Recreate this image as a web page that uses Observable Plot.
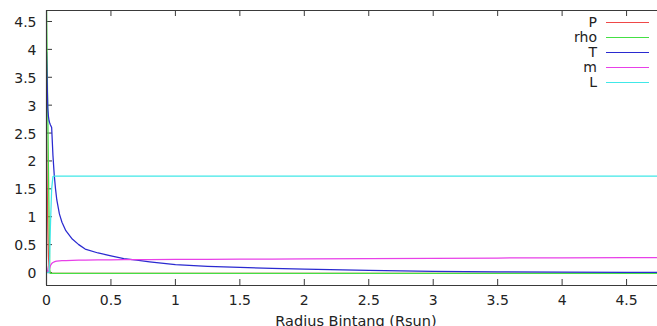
<!DOCTYPE html>
<html>
<head>
<meta charset="utf-8">
<script src="https://cdn.jsdelivr.net/npm/d3@7"></script>
<script src="https://cdn.jsdelivr.net/npm/@observablehq/plot@0.6"></script>
<style>
  html, body { margin: 0; padding: 0; background: #fff; }
  #wrap { position: relative; width: 657px; height: 326px; overflow: hidden; font-family: "DejaVu Sans", sans-serif; }
  #legend { position: absolute; left: 527px; top: 15px; font-size: 14px; color: #222; }
  .row { display: flex; align-items: center; height: 15px; }
  .lab { width: 70px; text-align: right; line-height: 15px; }
  .sw { width: 43px; height: 1px; margin-left: 9px; }
</style>
</head>
<body>
<div id="wrap"><div id="legend"></div></div>
<script>
// Radius grid (Rsun) shared by all series
const r   = [0, 0.005, 0.01, 0.015, 0.02, 0.025, 0.03, 0.04, 0.05, 0.06, 0.07, 0.08, 0.1, 0.12, 0.15, 0.2, 0.25, 0.3, 0.4, 0.5, 0.6, 0.7, 0.8, 1.0, 1.25, 1.5, 1.75, 2.0, 2.5, 3.0, 3.5, 4.0, 4.5, 4.75];
const P   = [2.6, 1.6, 0.8, 0.3, 0.08, 0.0, -0.015, -0.015, -0.015, -0.015, -0.015, -0.015, -0.015, -0.015, -0.015, -0.015, -0.015, -0.015, -0.015, -0.015, -0.015, -0.015, -0.015, -0.015, -0.015, -0.015, -0.015, -0.015, -0.015, -0.015, -0.015, -0.015, -0.015, -0.015];
const rho = [4.8, 3.8, 2.85, 1.9, 0.95, 0.05, -0.015, -0.015, -0.015, -0.015, -0.015, -0.015, -0.015, -0.015, -0.015, -0.015, -0.015, -0.015, -0.015, -0.015, -0.015, -0.015, -0.015, -0.015, -0.015, -0.015, -0.015, -0.015, -0.015, -0.015, -0.015, -0.015, -0.015, -0.015];
const T   = [3.95, 3.4, 2.95, 2.8, 2.72, 2.68, 2.65, 2.6, 2.1, 1.75, 1.5, 1.3, 1.05, 0.9, 0.75, 0.6, 0.5, 0.42, 0.35, 0.3, 0.25, 0.22, 0.19, 0.14, 0.11, 0.09, 0.075, 0.06, 0.04, 0.02, 0.01, 0.005, 0.003, 0.002];
const m   = [0.12, 0.06, 0.01, 0.0, 0.03, 0.08, 0.12, 0.16, 0.18, 0.19, 0.2, 0.205, 0.21, 0.212, 0.215, 0.218, 0.22, 0.222, 0.225, 0.227, 0.229, 0.23, 0.232, 0.234, 0.237, 0.24, 0.242, 0.245, 0.25, 0.255, 0.26, 0.263, 0.267, 0.268];
const L   = [0, 0, 0, 0, 0, 0.3, 0.8, 1.5, 1.72, 1.73, 1.73, 1.73, 1.73, 1.73, 1.73, 1.73, 1.73, 1.73, 1.73, 1.73, 1.73, 1.73, 1.73, 1.73, 1.73, 1.73, 1.73, 1.73, 1.73, 1.73, 1.73, 1.73, 1.73, 1.73];

const seriesNames  = ["P", "rho", "T", "m", "L"];
const seriesColors = ["#f04848", "#44e044", "#2a2ad0", "#e840e8", "#40e8e8"];
const xTicks = [0, 0.5, 1, 1.5, 2, 2.5, 3, 3.5, 4, 4.5];
const yTicks = [0, 0.5, 1, 1.5, 2, 2.5, 3, 3.5, 4, 4.5];
const xLabel = "Radius Bintang (Rsun)";
const xDomain = [0, 4.74];
const yDomain = [-0.233, 4.697];

const seriesValues = [P, rho, T, m, L];
const data = [];
seriesNames.forEach((name, k) => {
  r.forEach((x, i) => data.push({series: name, r: x, v: seriesValues[k][i]}));
});

const W = 657, H = 326;
const mL = 46, mR = 0, mT = 10, mB = 41;
const frameW = W - mL - mR, frameH = H - mT - mB;
const tickLen = 6;
const frameColor = "#3a3a3a";

const chart = Plot.plot({
  width: W,
  height: H,
  marginLeft: mL,
  marginRight: mR,
  marginTop: mT,
  marginBottom: mB,
  style: {background: "#fff", fontFamily: "DejaVu Sans, sans-serif", fontSize: "14px", color: "#222"},
  x: {domain: xDomain},
  y: {domain: yDomain},
  color: {domain: seriesNames, range: seriesColors},
  marks: [
    Plot.axisX({ticks: xTicks, tickSize: 0, tickPadding: 10, tickFormat: d => String(d), label: null, fontSize: 14}),
    Plot.axisY({ticks: yTicks, tickSize: 0, tickPadding: 10, tickFormat: d => String(d), label: null, fontSize: 14, dy: 1}),
    Plot.tickX(xTicks, {x: d => d, insetTop: frameH - tickLen, stroke: frameColor}),
    Plot.tickX(xTicks, {x: d => d, insetBottom: frameH - tickLen, stroke: frameColor}),
    Plot.tickY(yTicks, {y: d => d, insetRight: frameW - tickLen, stroke: frameColor}),
    Plot.line(data, {x: "r", y: "v", z: "series", stroke: "series", strokeWidth: 1.25, clip: true, curve: "linear"}),
    Plot.ruleX([xDomain[0]], {stroke: frameColor, strokeWidth: 1.2}),
    Plot.ruleY([yDomain[0]], {stroke: frameColor, strokeWidth: 1.2}),
    Plot.ruleY([yDomain[1]], {stroke: frameColor, strokeWidth: 1.2}),
    Plot.text([xLabel], {frameAnchor: "bottom", dy: 40.5, dx: 4, lineAnchor: "bottom", text: d => d, fontSize: 14.5, fill: "#222"})
  ]
});

const wrap = document.getElementById("wrap");
wrap.insertBefore(chart, wrap.firstChild);

const legend = document.getElementById("legend");
seriesNames.forEach((name, i) => {
  const row = document.createElement("div");
  row.className = "row";
  const lab = document.createElement("div");
  lab.className = "lab";
  lab.textContent = name;
  const sw = document.createElement("div");
  sw.className = "sw";
  sw.style.background = seriesColors[i];
  row.appendChild(lab);
  row.appendChild(sw);
  legend.appendChild(row);
});
</script>
</body>
</html>
